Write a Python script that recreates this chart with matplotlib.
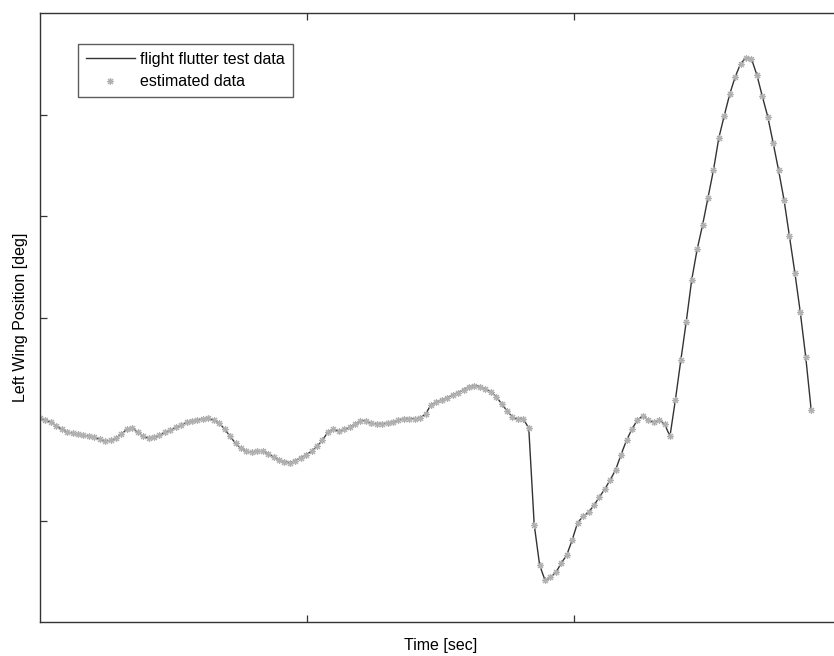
import numpy as np
import matplotlib
matplotlib.use("Agg")
import matplotlib.pyplot as plt

plt.rcParams['font.family'] = ['Liberation Sans', 'DejaVu Sans']

# left wing position (deg, 143 samples)
wing_pos = [0.01, -0.01, -0.03, -0.07, -0.10, -0.13, -0.14, -0.15, -0.16, -0.17,
            -0.18, -0.20, -0.22, -0.21, -0.19, -0.15, -0.10, -0.09, -0.13, -0.17,
            -0.19, -0.18, -0.16, -0.13, -0.11, -0.08, -0.06, -0.03, -0.02, -0.01,
            0.00, 0.01, -0.01, -0.04, -0.10, -0.17, -0.24, -0.29, -0.32, -0.33,
            -0.32, -0.32, -0.34, -0.37, -0.40, -0.42, -0.43, -0.41, -0.38, -0.35,
            -0.32, -0.27, -0.21, -0.13, -0.10, -0.12, -0.10, -0.08, -0.05, -0.02,
            -0.02, -0.04, -0.05, -0.05, -0.04, -0.03, -0.01, 0.00, 0.00, 0.00,
            0.01, 0.05, 0.14, 0.17, 0.19, 0.21, 0.24, 0.26, 0.29, 0.32,
            0.33, 0.32, 0.30, 0.27, 0.22, 0.15, 0.08, 0.02, 0.00, 0.00,
            -0.09, -1.04, -1.44, -1.59, -1.56, -1.51, -1.42, -1.34, -1.19, -1.02,
            -0.96, -0.92, -0.85, -0.77, -0.69, -0.60, -0.50, -0.35, -0.21, -0.10,
            -0.01, 0.03, -0.01, -0.03, -0.01, -0.05, -0.17, 0.19, 0.58, 0.96,
            1.37, 1.67, 1.91, 2.18, 2.45, 2.77, 2.99, 3.20, 3.37, 3.50,
            3.56, 3.55, 3.39, 3.18, 2.98, 2.72, 2.45, 2.16, 1.80, 1.44,
            1.05, 0.61, 0.09]
dt = 0.02034  # sample step
time_sec = np.arange(len(wing_pos)) * dt

x_ticks = [1, 2]
y_ticks = [-1, 0, 1, 2, 3]

fig = plt.figure(figsize=(8.34, 6.56), dpi=100)
# axes runs a bit past the right side of the picture, like the original scan
ax = fig.add_axes([40 / 834, 34 / 656, 801 / 834, 609 / 656])

ax.plot(time_sec, wing_pos, color='#333333', lw=1.0, label='flight flutter test data')
ax.plot(time_sec, wing_pos, linestyle='none', marker=(8, 2, 0), markersize=5,
        mew=0.8, color='#b0b0b0', label='estimated data')

ax.set_xlim(0, 3.0)
ax.set_ylim(-2, 4)
ax.set_xticks(x_ticks)
ax.set_yticks(y_ticks)
ax.set_xticklabels([])
ax.set_yticklabels([])
ax.tick_params(direction='in', length=5, width=0.9, color='#333333',
               top=True, right=True)
for s in ax.spines.values():
    s.set_color('#333333')
    s.set_linewidth(1.0)

ax.set_xlabel('Time [sec]', fontsize=11.5, labelpad=8)
ax.set_ylabel('Left Wing Position [deg]', fontsize=11.5, labelpad=5)

leg = ax.legend(loc='upper left', bbox_to_anchor=(0.047, 0.949), borderaxespad=0,
                fontsize=11.5, fancybox=False, handlelength=3.1, labelspacing=0.45,
                handletextpad=0.3, borderpad=0.5)
leg.get_frame().set_edgecolor('#333333')
leg.get_frame().set_linewidth(1.0)

plt.savefig('out.png', dpi=100)
